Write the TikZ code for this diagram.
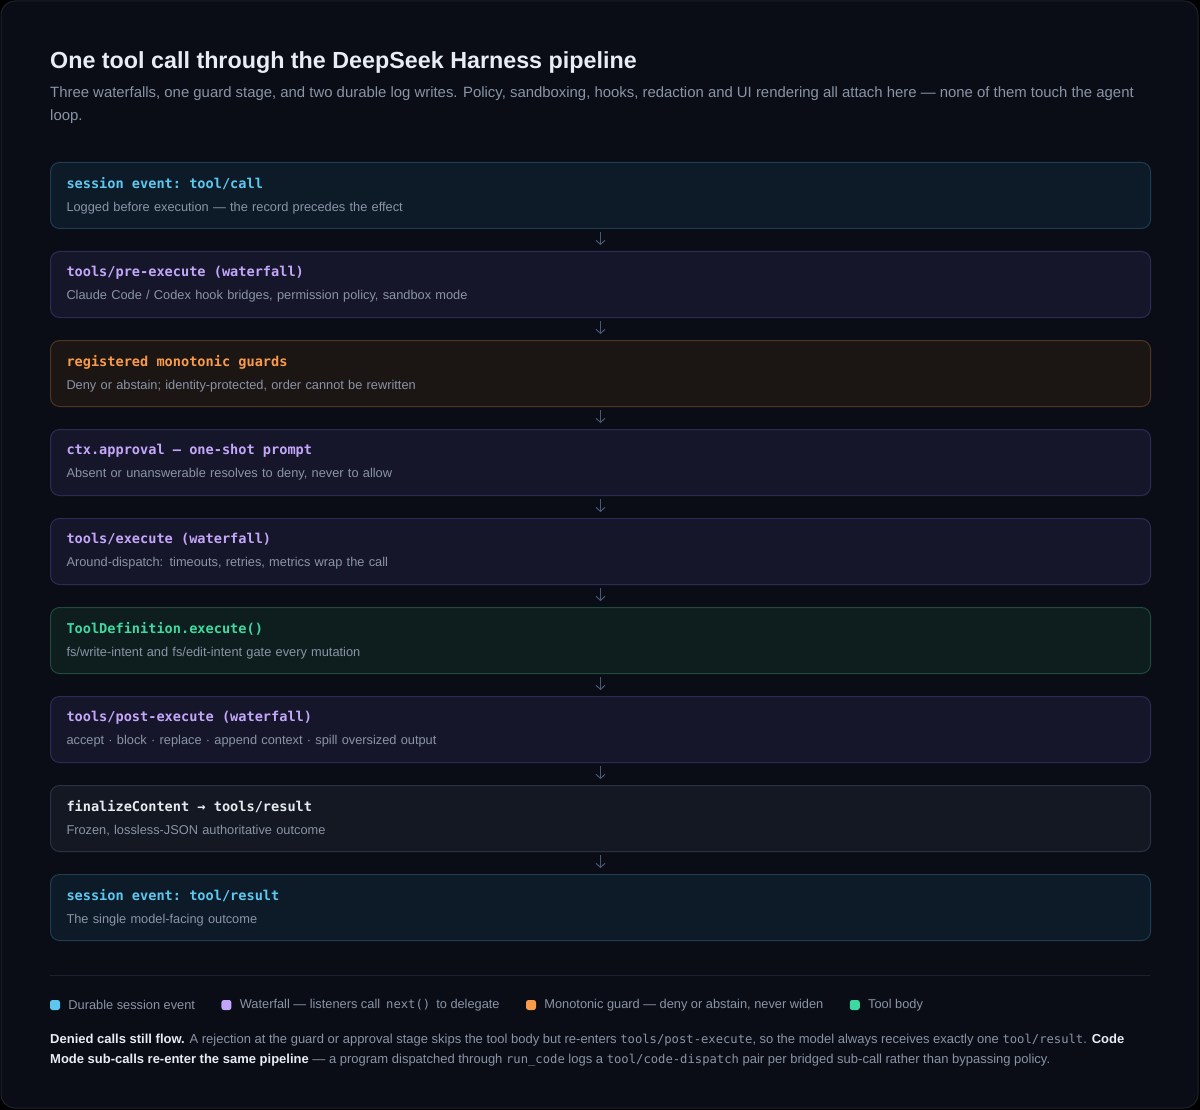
\documentclass[tikz,border=0pt]{standalone}
\usepackage{fontspec}
\setmainfont{Liberation Sans}
\setmonofont{DejaVu Sans Mono}
\usetikzlibrary{positioning,arrows.meta}

\definecolor{page}{HTML}{0A0D16}
\definecolor{frame}{HTML}{1C2230}
\definecolor{ink}{HTML}{E8ECF3}
\definecolor{muted}{HTML}{8A94A6}
\definecolor{arrowc}{HTML}{4A5878}
\definecolor{cyanT}{HTML}{5CC8F0}
\definecolor{cyanF}{HTML}{0D1A28}
\definecolor{cyanD}{HTML}{1E3D55}
\definecolor{violT}{HTML}{C3A6FA}
\definecolor{violF}{HTML}{16162A}
\definecolor{violD}{HTML}{2E2A56}
\definecolor{orngT}{HTML}{F99B4A}
\definecolor{orngF}{HTML}{1B1614}
\definecolor{orngD}{HTML}{4E3520}
\definecolor{grnT}{HTML}{3DD9A0}
\definecolor{grnF}{HTML}{0E1E1E}
\definecolor{grnD}{HTML}{1F4A3E}
\definecolor{grayT}{HTML}{E6E9EF}
\definecolor{grayF}{HTML}{131822}
\definecolor{grayD}{HTML}{2A3142}

\newcommand{\monospaces}{\spaceskip=0.602em\relax\xspaceskip=0.602em\relax}
\newcommand{\head}[2]{{\fontsize{13.6}{23}\ttfamily\bfseries\monospaces\color{#1}#2}}
\newcommand{\code}[1]{{\fontsize{12.2}{14}\ttfamily\monospaces #1}}
\newcommand{\bold}[1]{{\bfseries\color{ink}#1}}

\begin{document}
\begin{tikzpicture}[x=1pt,y=1pt,
  stage/.style={rectangle, rounded corners=9pt, line width=1pt, minimum width=1100pt,
    minimum height=66pt, text width=1068pt, inner xsep=16pt, inner ysep=0pt, align=left,
    font=\fontsize{12.8}{23}\selectfont, text=muted},
  event/.style={stage, draw=cyanD, fill=cyanF},
  fall/.style={stage, draw=violD, fill=violF},
  guard/.style={stage, draw=orngD, fill=orngF},
  body/.style={stage, draw=grnD, fill=grnF},
  plain/.style={stage, draw=grayD, fill=grayF},
  flow/.style={draw=arrowc, line width=1pt, -{Straight Barb[length=4pt,width=9pt]},
    shorten <=3pt, shorten >=6pt},
  key/.style={rectangle, rounded corners=2.5pt, minimum size=10pt, inner sep=0pt, fill=#1},
  keytext/.style={inner sep=0pt, text=muted, font=\fontsize{12.8}{16}\selectfont, right=8pt of #1},
  node distance=22pt]

  % page and panel
  \fill[black] (0,0) rectangle (1200,-1110);
  \useasboundingbox (0,0) rectangle (1200,-1110);
  \draw[frame, fill=page, line width=1pt, rounded corners=14pt] (1,-1) rectangle (1198,-1108);

  % heading
  \node[anchor=base west, inner sep=0pt, text=ink, font=\fontsize{23.3}{28}\bfseries] (title) at (50,-69)
    {One tool call through the DeepSeek Harness pipeline};
  \node[anchor=north west, inner sep=0pt, align=left, text=muted, font=\fontsize{14.9}{23}\selectfont] (lede) at (50,-87)
    {Three waterfalls, one guard stage, and two durable log writes. Policy, sandboxing, hooks, redaction and UI rendering all attach here — none of them touch the agent\\loop.};

  % the pipeline
  \node[event, anchor=north west] (callev) at (50,-162)
    {\head{cyanT}{session event: tool/call}\\Logged before execution — the record precedes the effect};
  \node[fall, below=of callev] (preexec)
    {\head{violT}{tools/pre-execute (waterfall)}\\Claude Code / Codex hook bridges, permission policy, sandbox mode};
  \node[guard, below=of preexec] (guards)
    {\head{orngT}{registered monotonic guards}\\Deny or abstain; identity-protected, order cannot be rewritten};
  \node[fall, below=of guards] (approval)
    {\head{violT}{ctx.approval — one-shot prompt}\\Absent or unanswerable resolves to deny, never to allow};
  \node[fall, below=of approval] (exec)
    {\head{violT}{tools/execute (waterfall)}\\Around-dispatch: timeouts, retries, metrics wrap the call};
  \node[body, below=of exec] (toolbody)
    {\head{grnT}{ToolDefinition.execute()}\\fs/write-intent and fs/edit-intent gate every mutation};
  \node[fall, below=of toolbody] (postexec)
    {\head{violT}{tools/post-execute (waterfall)}\\accept · block · replace · append context · spill oversized output};
  \node[plain, below=of postexec] (final)
    {\head{grayT}{finalizeContent → tools/result}\\Frozen, lossless-JSON authoritative outcome};
  \node[event, below=of final] (resultev)
    {\head{cyanT}{session event: tool/result}\\The single model-facing outcome};

  \foreach \a/\b in {callev/preexec, preexec/guards, guards/approval, approval/exec,
      exec/toolbody, toolbody/postexec, postexec/final, final/resultev}
    \draw[flow] (\a) -- (\b);

  % legend
  \draw[frame, line width=1pt] (50,-975) -- (1150,-975);
  \node[key=cyanT] (k1) at (55,-1005) {};
  \node[keytext=k1] (l1) {Durable session event};
  \node[key=violT, right=26pt of l1] (k2) {};
  \node[keytext=k2] (l2) {Waterfall — listeners call\hspace{6pt}\code{next()}\hspace{6pt}to delegate};
  \node[key=orngT, right=26pt of l2] (k3) {};
  \node[keytext=k3] (l3) {Monotonic guard — deny or abstain, never widen};
  \node[key=grnT, right=26pt of l3] (k4) {};
  \node[keytext=k4] (l4) {Tool body};

  % footnote
  \node[anchor=north west, inner sep=0pt, align=left, text=muted, font=\fontsize{13}{20}\selectfont] (note) at (50,-1034)
    {\bold{Denied calls still flow.} A rejection at the guard or approval stage skips the tool body but re-enters \code{tools/post-execute}, so the model always receives exactly one \code{tool/result}. \bold{Code}\\
     \bold{Mode sub-calls re-enter the same pipeline} — a program dispatched through \code{run\_code} logs a \code{tool/code-dispatch} pair per bridged sub-call rather than bypassing policy.};
\end{tikzpicture}
\end{document}
